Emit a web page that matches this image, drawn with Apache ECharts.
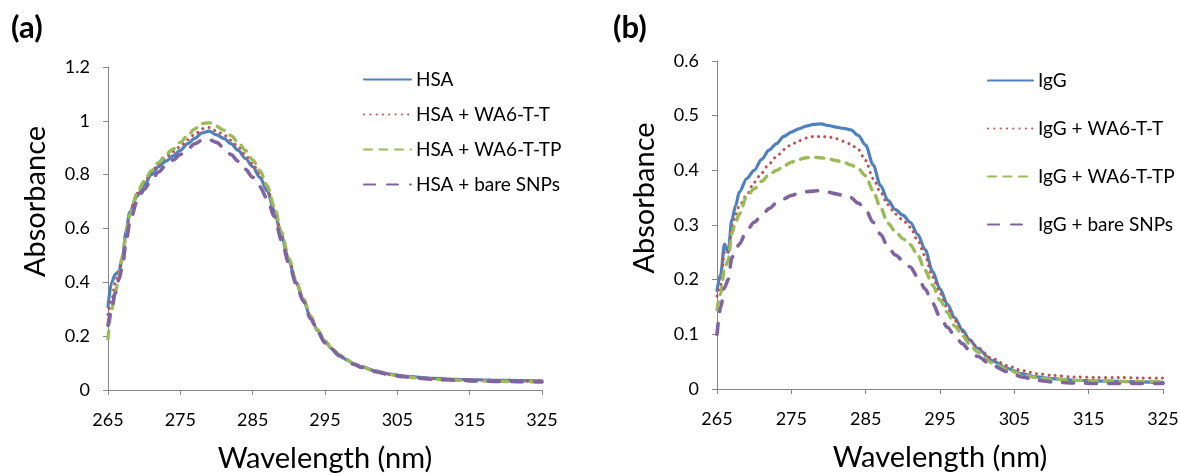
<!DOCTYPE html>
<html>
<head>
<meta charset="utf-8">
<script src="https://cdn.jsdelivr.net/npm/echarts@6/dist/echarts.min.js"></script>
<style>
  html, body { margin: 0; padding: 0; background: #fff; }
  #chart { width: 1180px; height: 475px; }
</style>
</head>
<body>
<div id="chart"></div>
<script>
// Wavelength grid (nm) shared by every spectrum
const wavelength = [265, 265.5, 266, 266.5, 267, 267.5, 268,
  269, 270, 271, 272, 273, 274, 275, 276, 277, 278, 279, 280, 281, 282, 283, 284,
  285, 286, 287, 288, 289, 290, 291, 292, 293, 294, 295, 296, 297, 298, 299, 300,
  302, 304, 306, 308, 310, 313, 316, 319, 322, 325];
const wavelengthTicks = [265, 275, 285, 295, 305, 315, 325];

// (a) HSA absorbance spectra
const namesA = ['HSA', 'HSA + WA6-T-T', 'HSA + WA6-T-TP', 'HSA + bare SNPs'];
const hsa = [0.31, 0.40, 0.43, 0.44, 0.49, 0.59, 0.66,
  0.72, 0.76, 0.80, 0.83, 0.85, 0.87, 0.89, 0.915, 0.935, 0.955, 0.962, 0.948, 0.935, 0.915, 0.89, 0.86,
  0.83, 0.79, 0.74, 0.665, 0.57, 0.48, 0.40, 0.335, 0.27, 0.22, 0.18, 0.152, 0.13, 0.112, 0.098, 0.087,
  0.071, 0.059, 0.052, 0.047, 0.043, 0.040, 0.038, 0.036, 0.035, 0.034];
const hsaWA6TT = [0.28, 0.33, 0.40, 0.44, 0.50, 0.57, 0.65,
  0.73, 0.77, 0.81, 0.84, 0.865, 0.885, 0.905, 0.93, 0.95, 0.97, 0.975, 0.962, 0.948, 0.928, 0.903, 0.873,
  0.84, 0.80, 0.75, 0.67, 0.575, 0.485, 0.403, 0.337, 0.272, 0.221, 0.181, 0.153, 0.131, 0.112, 0.098, 0.087,
  0.070, 0.058, 0.051, 0.046, 0.042, 0.039, 0.037, 0.035, 0.034, 0.033];
const hsaWA6TTP = [0.19, 0.30, 0.36, 0.42, 0.50, 0.58, 0.65,
  0.73, 0.775, 0.815, 0.845, 0.875, 0.895, 0.92, 0.945, 0.97, 0.99, 0.993, 0.98, 0.965, 0.945, 0.92, 0.89,
  0.855, 0.815, 0.76, 0.68, 0.585, 0.49, 0.405, 0.34, 0.275, 0.223, 0.182, 0.153, 0.13, 0.111, 0.097, 0.086,
  0.069, 0.057, 0.049, 0.044, 0.040, 0.036, 0.034, 0.032, 0.031, 0.030];
const hsaBare = [0.24, 0.30, 0.36, 0.41, 0.46, 0.55, 0.62,
  0.70, 0.745, 0.78, 0.81, 0.835, 0.855, 0.875, 0.895, 0.915, 0.928, 0.93, 0.92, 0.90, 0.875, 0.85, 0.82,
  0.79, 0.755, 0.71, 0.645, 0.555, 0.47, 0.395, 0.33, 0.265, 0.215, 0.175, 0.148, 0.127, 0.109, 0.095, 0.084,
  0.068, 0.056, 0.049, 0.044, 0.040, 0.036, 0.034, 0.032, 0.031, 0.030];

// (b) IgG absorbance spectra
const namesB = ['IgG', 'IgG + WA6-T-T', 'IgG + WA6-T-TP', 'IgG + bare SNPs'];
const igg = [0.18, 0.21, 0.265, 0.25, 0.31, 0.335, 0.36,
  0.385, 0.40, 0.42, 0.437, 0.449, 0.462, 0.47, 0.476, 0.481, 0.484, 0.485, 0.482, 0.479, 0.477, 0.474, 0.464,
  0.446, 0.41, 0.372, 0.345, 0.328, 0.318, 0.305, 0.283, 0.255, 0.215, 0.183, 0.155, 0.13, 0.108, 0.09, 0.075,
  0.052, 0.038, 0.028, 0.022, 0.019, 0.016, 0.015, 0.014, 0.013, 0.012];
const iggWA6TT = [0.17, 0.19, 0.25, 0.25, 0.29, 0.32, 0.335,
  0.355, 0.378, 0.395, 0.412, 0.425, 0.438, 0.447, 0.454, 0.459, 0.462, 0.462, 0.461, 0.458, 0.453, 0.448, 0.438,
  0.418, 0.385, 0.36, 0.337, 0.32, 0.309, 0.296, 0.272, 0.243, 0.205, 0.175, 0.148, 0.125, 0.105, 0.09, 0.076,
  0.056, 0.043, 0.034, 0.028, 0.025, 0.022, 0.021, 0.021, 0.020, 0.020];
const iggWA6TTP = [0.145, 0.175, 0.22, 0.235, 0.285, 0.305, 0.32,
  0.352, 0.366, 0.38, 0.392, 0.40, 0.408, 0.415, 0.42, 0.423, 0.424, 0.423, 0.421, 0.418, 0.415, 0.41, 0.403,
  0.39, 0.362, 0.332, 0.303, 0.288, 0.275, 0.264, 0.245, 0.217, 0.19, 0.163, 0.14, 0.115, 0.098, 0.082, 0.068,
  0.048, 0.036, 0.026, 0.021, 0.018, 0.016, 0.015, 0.014, 0.014, 0.014];
const iggBare = [0.10, 0.15, 0.185, 0.20, 0.24, 0.255, 0.265,
  0.29, 0.305, 0.317, 0.33, 0.34, 0.348, 0.354, 0.358, 0.361, 0.362, 0.363, 0.36, 0.357, 0.354, 0.35, 0.34,
  0.328, 0.305, 0.283, 0.26, 0.245, 0.235, 0.223, 0.205, 0.183, 0.157, 0.132, 0.113, 0.097, 0.083, 0.07, 0.06,
  0.043, 0.032, 0.022, 0.016, 0.013, 0.011, 0.010, 0.010, 0.010, 0.010];

const FONT = 'Lato';
const AXIS_GREY = '#868686';
const TEXT = '#000';

// solid blue, round-dotted red, dashed green, long-dashed purple
const styles = [
  { color: '#4F81BD', width: 3.2, type: 'solid', cap: 'round' },
  { color: '#C0504D', width: 3, type: [0.1, 6.2], cap: 'round' },
  { color: '#9BBB59', width: 3.4, type: [8, 7.5], cap: 'round' },
  { color: '#8064A2', width: 3.6, type: [11, 12], cap: 'round' }
];

function pairs(values) {
  return wavelength.map((w, i) => [w, values[i]]);
}

function makeXAxis(gridIndex) {
  return {
    type: 'value', gridIndex: gridIndex, min: 265, max: 325,
    name: 'Wavelength (nm)', nameLocation: 'middle', nameGap: 54,
    nameTextStyle: { fontFamily: FONT, fontSize: 29, color: TEXT },
    axisLine: { show: true, onZero: false, lineStyle: { color: AXIS_GREY, width: 1 } },
    axisTick: { show: true, length: 5, customValues: wavelengthTicks, lineStyle: { color: AXIS_GREY } },
    axisLabel: { margin: 21, customValues: wavelengthTicks, fontFamily: FONT, fontSize: 18, color: TEXT },
    splitLine: { show: false }
  };
}

function makeYAxis(gridIndex, max, interval) {
  return {
    type: 'value', gridIndex: gridIndex, min: 0, max: max, interval: interval,
    name: 'Absorbance', nameLocation: 'middle', nameGap: 58,
    nameTextStyle: { fontFamily: FONT, fontSize: 29, color: TEXT, padding: [0, 0, 0, 54] },
    axisLine: { show: true, lineStyle: { color: AXIS_GREY, width: 1 } },
    axisTick: { show: true, length: 5, lineStyle: { color: AXIS_GREY } },
    axisLabel: { margin: 18, fontFamily: FONT, fontSize: 18, color: TEXT },
    splitLine: { show: false }
  };
}

function makeSeries(names, arrays, axisIndex) {
  return arrays.map((arr, k) => ({
    name: names[k], type: 'line', xAxisIndex: axisIndex, yAxisIndex: axisIndex,
    data: pairs(arr), symbol: 'none', showSymbol: false,
    smooth: 0.3, smoothMonotone: 'x',
    lineStyle: styles[k], itemStyle: { color: styles[k].color },
    emphasis: { disabled: true }, animation: false
  }));
}

function makeLegend(names, left, top, gap, width) {
  return {
    orient: 'vertical', left: left, top: top, itemGap: gap, padding: 0,
    itemWidth: width, itemHeight: 14, selectedMode: false,
    data: names,
    itemStyle: { opacity: 0 },
    textStyle: { fontFamily: FONT, fontSize: 19, color: TEXT, lineHeight: 14 }
  };
}

const chart = echarts.init(document.getElementById('chart'), null, { renderer: 'canvas' });
chart.setOption({
  backgroundColor: '#fff',
  animation: false,
  title: [
    { text: '(a)', left: 6, top: 7, textStyle: { fontFamily: FONT, fontSize: 31, fontWeight: 'bold', color: TEXT } },
    { text: '(b)', left: 608, top: 7, textStyle: { fontFamily: FONT, fontSize: 31, fontWeight: 'bold', color: TEXT } }
  ],
  grid: [
    { left: 108, top: 67, width: 434, height: 323, containLabel: false, outerBoundsMode: 'none' },
    { left: 717, top: 61, width: 446, height: 328, containLabel: false, outerBoundsMode: 'none' }
  ],
  xAxis: [makeXAxis(0), makeXAxis(1)],
  yAxis: [makeYAxis(0, 1.2, 0.2), makeYAxis(1, 0.6, 0.1)],
  legend: [
    makeLegend(namesA, 363, 70, 16, 47),
    makeLegend(namesB, 987, 71, 29, 45)
  ],
  series: [
    ...makeSeries(namesA, [hsa, hsaWA6TT, hsaWA6TTP, hsaBare], 0),
    ...makeSeries(namesB, [igg, iggWA6TT, iggWA6TTP, iggBare], 1)
  ]
});
</script>
</body>
</html>
